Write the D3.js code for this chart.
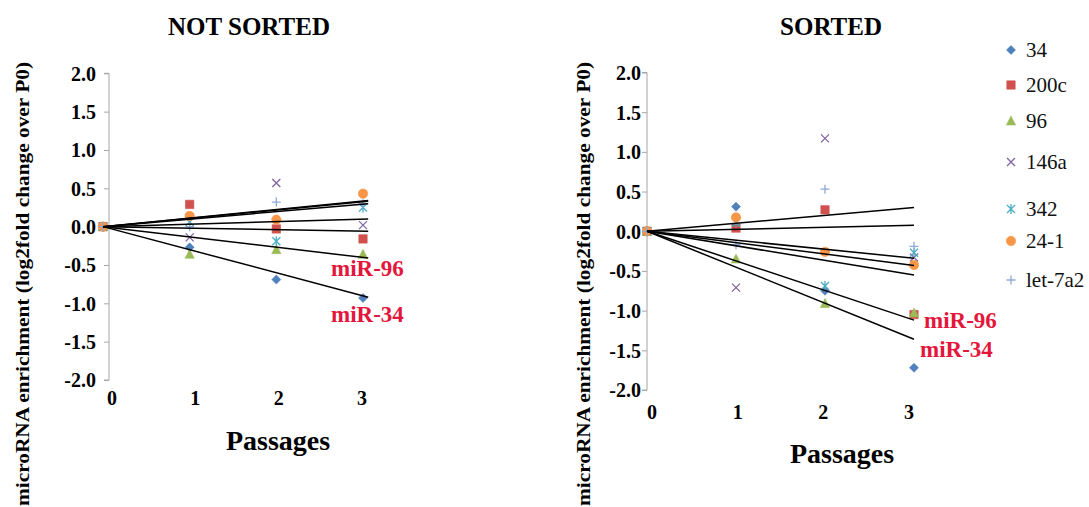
<!DOCTYPE html>
<html><head><meta charset="utf-8">
<script src="https://cdn.jsdelivr.net/npm/d3@7"></script>
<style>
html,body{margin:0;padding:0;background:#fff;}
svg text{font-family:"Liberation Serif","Times New Roman",serif !important;}
</style></head>
<body><svg id="chart" width="1089" height="507"></svg>
<script>
// ---------- data ----------
const passages = [0, 1, 2, 3];
const seriesNames = ["34", "200c", "96", "146a", "342", "24-1", "let-7a2"];
const yTicks = [2.0, 1.5, 1.0, 0.5, 0.0, -0.5, -1.0, -1.5, -2.0];

// NOT SORTED (log2 fold change over P0)
const ns34     = [0, -0.27, -0.69, -0.93];
const ns200c   = [0,  0.29, -0.03, -0.16];
const ns96     = [0, -0.36, -0.30, -0.36];
const ns146a   = [0, -0.14,  0.57,  0.02];
const ns342    = [0,  0.06, -0.19,  0.25];
const ns241    = [0,  0.14,  0.09,  0.43];
const nsLet7a2 = [0,  0.00,  0.32,  0.30];
// trendline (through origin) value at its end point
const nsTrendEnd = [-0.92, -0.06, -0.41, 0.30, 0.10, 0.34, 0.33];

// SORTED
const s34     = [0,  0.31, -0.75, -1.72];
const s200c   = [0,  0.04,  0.27, -1.05];
const s96     = [0, -0.35, -0.91, -1.03];
const s146a   = [0, -0.71,  1.17, -0.33];
const s342    = [0,  0.11, -0.69, -0.27];
const s241    = [0,  0.175, -0.26, -0.425];
const sLet7a2 = [0, -0.17,  0.53, -0.19];
const sTrendEnd = [-1.36, -0.55, -1.12, 0.30, -0.43, -0.34, 0.075];

const nsValues = [ns34, ns200c, ns96, ns146a, ns342, ns241, nsLet7a2];
const sValues  = [s34, s200c, s96, s146a, s342, s241, sLet7a2];

// ---------- styles ----------
const FONT = "'Liberation Serif', 'Times New Roman', serif";
const colors = ["#4f81bd", "#d0514e", "#9bbb59", "#8064a2", "#4bacc6", "#f79646", "#8fa9d8"];
const shapes = ["diamond", "square", "triangle", "x", "star", "circle", "plus"];

function markerPath(shape) {
  switch (shape) {
    case "diamond":  return "M0,-4.5L4.5,0L0,4.5L-4.5,0Z";
    case "square":   return "M-4.2,-4.2H4.2V4.2H-4.2Z";
    case "triangle": return "M0,-5L4.6,4H-4.6Z";
    case "circle":   return "M4.7,0A4.7,4.7 0 1,1 -4.7,0A4.7,4.7 0 1,1 4.7,0Z";
    case "x":        return "M-4,-4L4,4M4,-4L-4,4";
    case "star":     return "M-4,-4L4,4M4,-4L-4,4M0,-5V5";
    case "plus":     return "M-4.5,0H4.5M0,-4.5V4.5";
  }
}
const stroked = s => s === "x" || s === "star" || s === "plus";

const svg = d3.select("#chart");

function txt(sel) { return sel.style("font-family", FONT); }

function drawPanel(cfg) {
  const x = d3.scaleLinear().domain([0, 3]).range(cfg.xRange);
  const xl = d3.scaleLinear().domain([0, 3]).range(cfg.xLabelRange);
  const y = d3.scaleLinear().domain([-2, 2]).range(cfg.yRange);
  const g = svg.append("g");

  // title
  txt(g.append("text")).attr("x", cfg.titleX).attr("y", 35).attr("text-anchor", "middle")
    .attr("font-size", 25).attr("font-weight", "bold").text(cfg.title);

  // y axis
  const yAxis = d3.axisLeft(y).tickValues(yTicks).tickSize(5).tickFormat(d3.format(".1f"));
  const ya = g.append("g").attr("transform", `translate(${cfg.axisX},0)`).call(yAxis);
  ya.attr("font-family", null);
  ya.select(".domain").attr("stroke", "#a6a6a6").attr("d", `M-5,${y(2)}H0V${y(-2)}H-5`);
  ya.selectAll(".tick line").attr("stroke", "#a6a6a6");
  txt(ya.selectAll(".tick text")).attr("font-size", 20)
    .attr("font-weight", "bold").attr("fill", "#000").attr("x", cfg.tickTextX - cfg.axisX).attr("dy", "0.34em")
    .text(d => d3.format(".1f")(d).replace("−", "-"));

  // x tick labels (no axis line)
  txt(g.append("g").selectAll("text").data(passages).join("text"))
    .attr("x", d => xl(d)).attr("y", cfg.xTickY).attr("text-anchor", "middle")
    .attr("font-size", 20).attr("font-weight", "bold").text(d => d);

  // axis titles
  txt(g.append("text")).attr("x", cfg.passX).attr("y", cfg.passY).attr("text-anchor", "middle")
    .attr("font-size", 28).attr("font-weight", "bold").text("Passages");
  txt(g.append("text")).attr("transform", `translate(${cfg.yTitleX},284) rotate(-90)`)
    .attr("text-anchor", "middle").attr("font-size", 19).attr("font-weight", "bold")
    .attr("textLength", 444).attr("lengthAdjust", "spacingAndGlyphs")
    .text("microRNA enrichment (log2fold change over P0)");

  // points
  cfg.values.forEach((vals, i) => {
    g.append("g").selectAll("path").data(vals).join("path")
      .attr("transform", (d, j) => `translate(${x(passages[j])},${y(d)})`)
      .attr("d", markerPath(shapes[i]))
      .attr("fill", stroked(shapes[i]) ? "none" : colors[i])
      .attr("stroke", colors[i])
      .attr("stroke-width", stroked(shapes[i]) ? 1.3 : 0.6);
  });

  // trendlines
  cfg.trend.forEach((v) => {
    g.append("line").attr("x1", x(0)).attr("y1", y(0))
      .attr("x2", x(cfg.trendX)).attr("y2", y(v))
      .attr("stroke", "#000").attr("stroke-width", 1.5);
  });

  // red labels
  cfg.labels.forEach(l => {
    txt(g.append("text")).attr("x", l.x).attr("y", l.y).attr("fill", "#e3173c")
      .attr("font-size", 23).attr("font-weight", "bold").text(l.t);
  });
}

drawPanel({
  title: "NOT SORTED", titleX: 249,
  xRange: [103, 363], xLabelRange: [112, 362], yRange: [380, 73.3],
  axisX: 109, tickTextX: 96, xTickY: 405, passX: 278, passY: 450, yTitleX: 29,
  values: nsValues, trend: nsTrendEnd, trendX: 3.06,
  labels: [{t: "miR-96", x: 331, y: 276}, {t: "miR-34", x: 331, y: 322}]
});

drawPanel({
  title: "SORTED", titleX: 831,
  xRange: [647, 914], xLabelRange: [652, 909], yRange: [390, 72.5],
  axisX: 647, tickTextX: 641, xTickY: 419, passX: 842, passY: 463, yTitleX: 590,
  values: sValues, trend: sTrendEnd, trendX: 3.0,
  labels: [{t: "miR-96", x: 924, y: 328}, {t: "miR-34", x: 920, y: 357}]
});

// legend
const legendY = [50, 85, 121, 162, 209, 241, 280];
const lg = svg.append("g");
seriesNames.forEach((name, i) => {
  lg.append("path").attr("transform", `translate(1011,${legendY[i]})`)
    .attr("d", markerPath(shapes[i]))
    .attr("fill", stroked(shapes[i]) ? "none" : colors[i])
    .attr("stroke", colors[i]).attr("stroke-width", stroked(shapes[i]) ? 1.3 : 0.6);
  txt(lg.append("text")).attr("x", 1026).attr("y", legendY[i] + 6.5)
    .attr("font-size", 21).attr("fill", "#111").text(name);
});
</script>
</body></html>
